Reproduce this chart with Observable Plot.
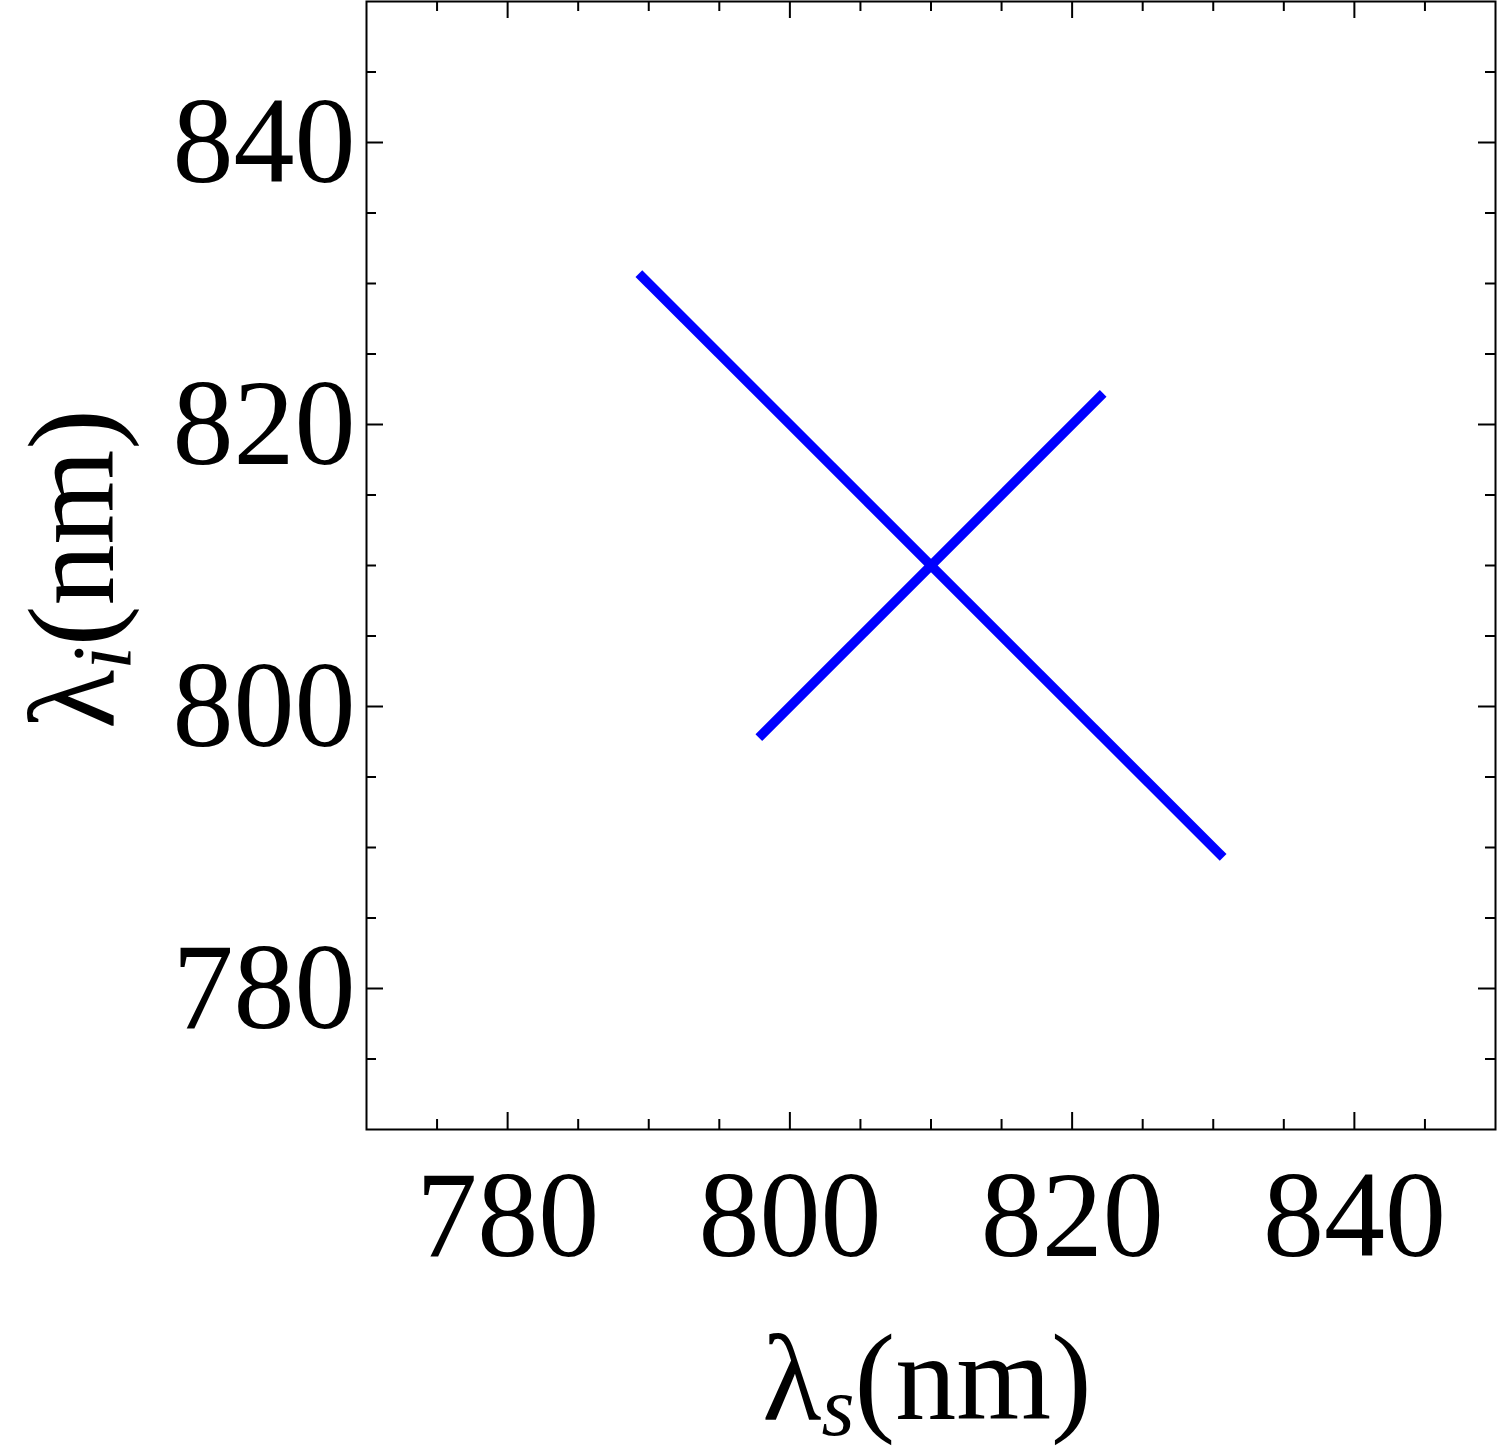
<!DOCTYPE html>
<html><head><meta charset="utf-8">
<script src="https://cdn.jsdelivr.net/npm/d3@7"></script>
<script src="https://cdn.jsdelivr.net/npm/@observablehq/plot@0.6"></script>
<style>body{margin:0;background:#fff}svg{display:block}</style>
</head><body><div id="chart"></div>
<script>
// data
const seriesA_x = [789.3, 830.7];
const seriesA_y = [830.7, 789.3];
const seriesB_x = [797.8, 822.2];
const seriesB_y = [797.8, 822.2];
const majorTicks = [780, 800, 820, 840];
const minorTicks = [775, 785, 790, 795, 805, 810, 815, 825, 830, 835, 845];
const xDomain = [770, 850];
const yDomain = [770, 850];
const xLabelMain = "λ", xLabelSub = "s", xLabelUnit = "(nm)";
const yLabelMain = "λ", yLabelSub = "i", yLabelUnit = "(nm)";

const W = 1500, H = 1455;
const mL = 366, mR = 5, mT = 1, mB = 326;
const innerW = W - mL - mR, innerH = H - mT - mB;
const FONT = "'Liberation Serif', 'Times New Roman', serif";

const lines = [
  ...seriesA_x.map((x, i) => ({series: "A", x, y: seriesA_y[i]})),
  ...seriesB_x.map((x, i) => ({series: "B", x, y: seriesB_y[i]}))
];

const majLen = 17, minLen = 10;
const tickStyle = {stroke: "black", strokeWidth: 2};

const plot = Plot.plot({
  width: W, height: H,
  marginLeft: mL, marginRight: mR, marginTop: mT, marginBottom: mB,
  style: {fontFamily: FONT, fontSize: "122px", color: "black", background: "white"},
  x: {domain: xDomain, label: null},
  y: {domain: yDomain, label: null},
  marks: [
    Plot.line(lines, {x: "x", y: "y", z: "series", stroke: "#0000ff", strokeWidth: 9.5, strokeLinecap: "butt"}),
    // inward ticks on all four sides
    Plot.tickX(majorTicks, {x: d => d, insetTop: innerH - majLen, ...tickStyle}),
    Plot.tickX(minorTicks, {x: d => d, insetTop: innerH - minLen, ...tickStyle}),
    Plot.tickX(majorTicks, {x: d => d, insetBottom: innerH - majLen, ...tickStyle}),
    Plot.tickX(minorTicks, {x: d => d, insetBottom: innerH - minLen, ...tickStyle}),
    Plot.tickY(majorTicks, {y: d => d, insetRight: innerW - majLen, ...tickStyle}),
    Plot.tickY(minorTicks, {y: d => d, insetRight: innerW - minLen, ...tickStyle}),
    Plot.tickY(majorTicks, {y: d => d, insetLeft: innerW - majLen, ...tickStyle}),
    Plot.tickY(minorTicks, {y: d => d, insetLeft: innerW - minLen, ...tickStyle}),
    Plot.axisX({ticks: majorTicks, tickSize: 0, tickPadding: 40, tickFormat: d => String(d), fontSize: 122, label: null}),
    Plot.axisY({ticks: majorTicks, tickSize: 0, tickPadding: 11, tickFormat: d => String(d), fontSize: 122, label: null}),
    Plot.frame({stroke: "black", strokeWidth: 2})
  ]
});

document.getElementById("chart").appendChild(plot);

const svg = d3.select(plot);
// x axis label
const xt = svg.append("text")
  .attr("x", 927).attr("y", 1419)
  .attr("text-anchor", "middle")
  .attr("font-family", FONT).attr("font-size", 122).attr("fill", "black");
xt.append("tspan").text(xLabelMain);
xt.append("tspan").attr("font-style", "italic").attr("font-size", 85).attr("dy", 16).text(xLabelSub);
xt.append("tspan").attr("dy", -16).text(xLabelUnit);

// y axis label
const yt = svg.append("text")
  .attr("transform", "translate(113,569) rotate(-90)")
  .attr("text-anchor", "middle")
  .attr("font-family", FONT).attr("font-size", 122).attr("fill", "black");
yt.append("tspan").text(yLabelMain);
yt.append("tspan").attr("font-style", "italic").attr("font-size", 85).attr("dy", 18).text(yLabelSub);
yt.append("tspan").attr("dy", -18).text(yLabelUnit);
</script>
</body></html>
